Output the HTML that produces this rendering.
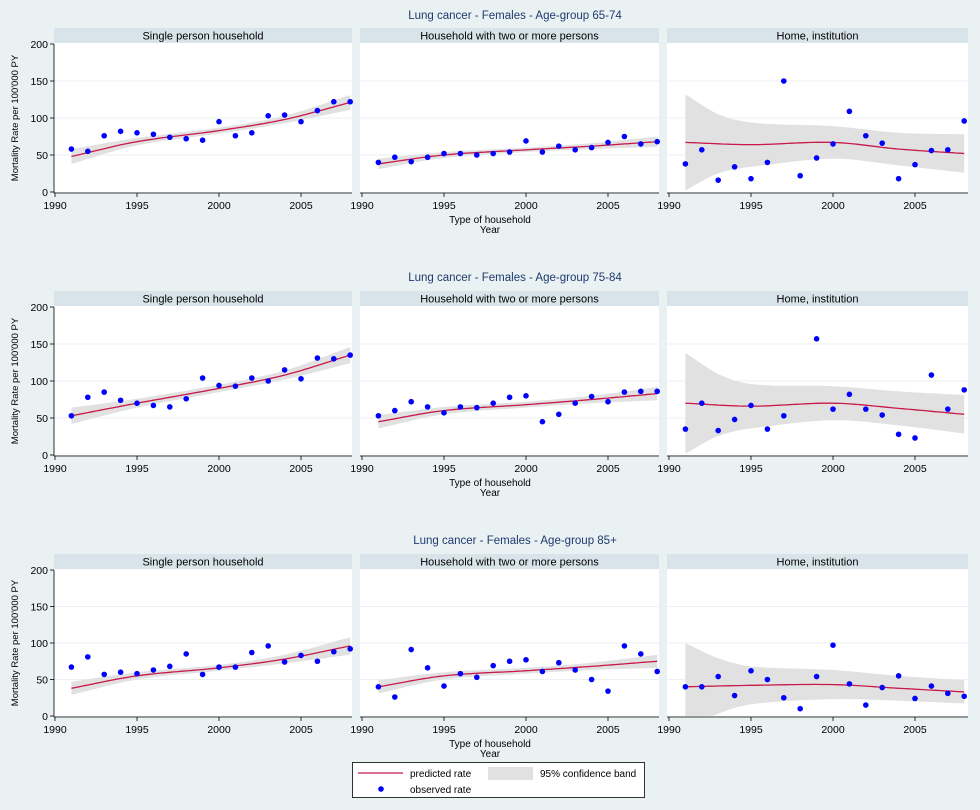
<!DOCTYPE html><html><head><meta charset="utf-8"><style>
html,body{margin:0;padding:0;background:#eaf1f3;}
svg{display:block;font-family:"Liberation Sans",sans-serif;}
</style></head><body>
<svg id="s" width="980" height="810" xmlns="http://www.w3.org/2000/svg"></svg>
<script>
const S=document.getElementById('s');let h='';
h+='<rect width="980" height="810" fill="#eaf1f3"/>';
const rows=[{t:'Lung cancer - Females - Age-group 65-74',ty:19,top:28,y0:192},
{t:'Lung cancer - Females - Age-group 75-84',ty:281,top:291,y0:455},
{t:'Lung cancer - Females - Age-group 85+',ty:544,top:554,y0:716}];
const cols=[{l:54,r:352,x0:55,n:'Single person household'},{l:360,r:659,x0:362,n:'Household with two or more persons'},{l:667,r:968,x0:669,n:'Home, institution'}];
const data=[
[[58,55,76,82,80,78,74,72,70,95,76,80,103,104,95,110,122,122],[[1991,48],[1995,68],[2000,83],[2004,98],[2008,121]],[[1991,10],[1995,5],[2000,4],[2004,5],[2008,10]]],
[[40,47,41,47,52,52,50,52,54,69,54,62,57,60,67,75,65,68],[[1991,38],[1995,50],[2000,57],[2004,62],[2008,68]],[[1991,7],[1995,4],[2000,3],[2004,4],[2008,7]]],
[[38,57,16,34,18,40,150,22,46,65,109,76,66,18,37,56,57,96],[[1991,67],[1995,64],[2000,67],[2004,58],[2008,52]],[[1991,65],[1993,40],[1995,30],[2000,22],[2004,22],[2008,26]]],
[[53,78,85,74,70,67,65,76,104,94,93,104,100,115,103,131,130,135],[[1991,53],[1995,70],[2000,90],[2004,108],[2008,135]],[[1991,11],[1995,6],[2000,5],[2004,6],[2008,11]]],
[[53,60,72,65,57,65,64,70,78,80,45,55,70,79,72,85,86,86],[[1991,45],[1995,60],[2000,68],[2004,75],[2008,83]],[[1991,9],[1995,5],[2000,4],[2004,5],[2008,9]]],
[[35,70,33,48,67,35,53,null,157,62,82,62,54,28,23,108,62,88],[[1991,70],[1995,66],[2000,70],[2004,63],[2008,55]],[[1991,68],[1993,42],[1995,30],[2000,23],[2004,23],[2008,26]]],
[[67,81,57,60,58,63,68,85,57,67,67,87,96,74,83,75,88,92],[[1991,38],[1995,55],[2000,66],[2004,78],[2008,96]],[[1991,9],[1995,5],[2000,4],[2004,6],[2008,12]]],
[[40,26,91,66,41,58,53,69,75,77,61,73,63,50,34,96,85,61],[[1991,40],[1995,55],[2000,62],[2004,68],[2008,75]],[[1991,9],[1995,5],[2000,4],[2004,5],[2008,9]]],
[[40,40,54,28,62,50,25,10,54,97,44,15,39,55,24,41,31,27],[[1991,40],[1995,42],[2000,43],[2004,38],[2008,33]],[[1991,60],[1993,38],[1995,26],[2000,20],[2004,17],[2008,16]]]];
function interp(k,y){const n=k.length;for(let i=0;i<n-1;i++){if(y<=k[i+1][0]||i==n-2){
 const x0=k[i][0],x1=k[i+1][0],p0=k[i][1],p1=k[i+1][1];
 const sl=j=>{if(j==0)return (k[1][1]-k[0][1])/(k[1][0]-k[0][0]);if(j==n-1)return (k[n-1][1]-k[n-2][1])/(k[n-1][0]-k[n-2][0]);return (k[j+1][1]-k[j-1][1])/(k[j+1][0]-k[j-1][0]);};
 const dx=x1-x0,t=(y-x0)/dx,m0=sl(i)*dx,m1=sl(i+1)*dx;
 const t2=t*t,t3=t2*t;
 return (2*t3-3*t2+1)*p0+(t3-2*t2+t)*m0+(-2*t3+3*t2)*p1+(t3-t2)*m1;}}return k[n-1][1];}
rows.forEach((R,ri)=>{
 h+=`<text x="515" y="${R.ty}" text-anchor="middle" font-size="11.5" fill="#1e3a6e">${R.t}</text>`;
 const sc=(R.y0-R.top-16)/200;
 cols.forEach((C,ci)=>{
  const d=data[ri*3+ci];const X=yr=>C.x0+(yr-1990)*16.4;const Y=v=>R.y0-v*sc;
  h+=`<rect x="${C.l}" y="${R.top}" width="${C.r-C.l}" height="15" fill="#d9e4ea"/>`;
  h+=`<text x="${(C.l+C.r)/2}" y="${R.top+11.5}" text-anchor="middle" font-size="11" fill="#000">${C.n}</text>`;
  h+=`<rect x="${C.l}" y="${R.top+15}" width="${C.r-C.l}" height="${R.y0-R.top-15}" fill="#fff"/>`;
  [50,100,150].forEach(v=>h+=`<line x1="${C.l}" x2="${C.r}" y1="${Y(v)}" y2="${Y(v)}" stroke="#eaf1f3" stroke-width="1"/>`);
  let up=[],lo=[],ln=[];
  for(let yr=1991;yr<=2008.001;yr+=0.25){const m=interp(d[1],yr),w=interp(d[2],yr);up.push(X(yr).toFixed(1)+','+Y(m+w).toFixed(1));lo.unshift(X(yr).toFixed(1)+','+Y(Math.max(m-w,0)).toFixed(1));ln.push(X(yr).toFixed(1)+','+Y(m).toFixed(1));}
  h+=`<polygon points="${up.concat(lo).join(' ')}" fill="#e1e1e1"/>`;
  h+=`<polyline points="${ln.join(' ')}" fill="none" stroke="#c8194a" stroke-width="1.3"/>`;
  d[0].forEach((v,i)=>{if(v!=null)h+=`<circle cx="${X(1991+i)}" cy="${Y(v)}" r="2.8" fill="#0000ff"/>`;});
  h+=`<line x1="${C.l}" x2="${C.r}" y1="${R.y0+1}" y2="${R.y0+1}" stroke="#000" stroke-width="0.8"/>`;
  [1990,1995,2000,2005].forEach(yr=>{h+=`<line x1="${X(yr)}" x2="${X(yr)}" y1="${R.y0+1}" y2="${R.y0+5}" stroke="#000" stroke-width="0.8"/><text x="${X(yr)}" y="${R.y0+17}" text-anchor="middle" font-size="10.5" fill="#000">${yr}</text>`;});
  if(ci==0){h+=`<line x1="${C.l}" x2="${C.l}" y1="${Y(200)}" y2="${R.y0+1}" stroke="#000" stroke-width="0.8"/>`;
   [0,50,100,150,200].forEach(v=>h+=`<line x1="${C.l-4}" x2="${C.l}" y1="${Y(v)}" y2="${Y(v)}" stroke="#000" stroke-width="0.8"/><text x="${C.l-6}" y="${Y(v)+4}" text-anchor="end" font-size="10.5" fill="#000">${v}</text>`);
   const cy=(Y(200)+R.y0)/2;h+=`<text transform="translate(18,${cy}) rotate(-90)" text-anchor="middle" font-size="9.5" fill="#000">Mortality Rate per 100'000 PY</text>`;}
 });
 h+=`<text x="490" y="${R.y0+31}" text-anchor="middle" font-size="10" fill="#000">Type of household</text><text x="490" y="${R.y0+41}" text-anchor="middle" font-size="10" fill="#000">Year</text>`;
});
h+=`<rect x="352.5" y="762.5" width="292" height="35" fill="#fff" stroke="#000" stroke-width="0.8"/>`;
h+=`<line x1="358" x2="403" y1="773" y2="773" stroke="#c8194a" stroke-width="1.3"/><text x="410" y="777" font-size="10">predicted rate</text>`;
h+=`<rect x="488" y="767" width="45" height="13" fill="#e1e1e1"/><text x="540" y="777" font-size="10">95% confidence band</text>`;
h+=`<circle cx="381" cy="789" r="2.8" fill="#0000ff"/><text x="410" y="793" font-size="10">observed rate</text>`;
S.innerHTML=h;
</script>
</body></html>
